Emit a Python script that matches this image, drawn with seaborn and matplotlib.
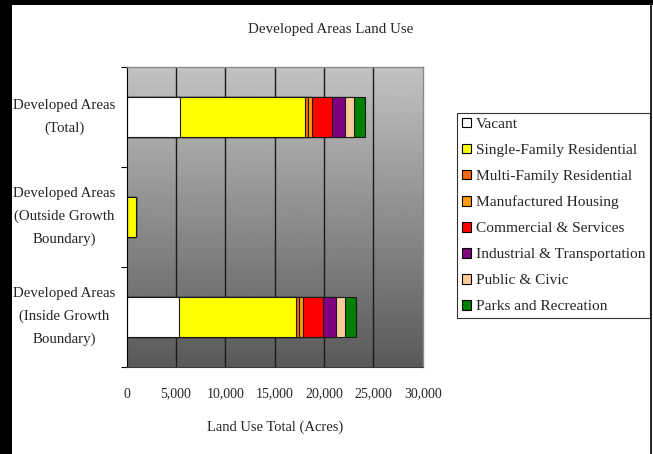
import numpy as np
import pandas as pd
import matplotlib
matplotlib.use("Agg")
import matplotlib.pyplot as plt
from matplotlib.patches import Patch, Rectangle
from matplotlib.lines import Line2D
from matplotlib.ticker import FuncFormatter
import seaborn as sns

# ---- data (acres) ----
categories = [
    "Developed Areas\n(Total)",
    "Developed Areas\n(Outside Growth\nBoundary)",
    "Developed Areas\n(Inside Growth\nBoundary)",
]
series_names = [
    "Vacant",
    "Single-Family Residential",
    "Multi-Family Residential",
    "Manufactured Housing",
    "Commercial & Services",
    "Industrial & Transportation",
    "Public & Civic",
    "Parks and Recreation",
]
vacant = [5400, 0, 5330]
single_family = [12670, 920, 11820]
multi_family = [300, 0, 300]
manufactured = [380, 0, 380]
commercial = [2080, 0, 2090]
industrial = [1290, 0, 1260]
public_civic = [940, 0, 940]
parks = [1050, 0, 1080]
x_ticks = [0, 5000, 10000, 15000, 20000, 25000, 30000]

series_values = [vacant, single_family, multi_family, manufactured,
                 commercial, industrial, public_civic, parks]
series_colors = ["#ffffff", "#ffff00", "#ff6600", "#ff9900",
                 "#ff0000", "#800080", "#ffcc99", "#008000"]

# long table with running totals for the stacked bars
rows = []
for name, vals in zip(series_names, series_values):
    for cat, v in zip(categories, vals):
        rows.append({"category": cat, "series": name, "value": v})
df = pd.DataFrame(rows)
df["cum"] = df.groupby("category", sort=False)["value"].cumsum()

sns.set_style("white")
plt.rcParams["font.family"] = ["Liberation Serif", "DejaVu Serif"]

W, H = 653, 454
fig = plt.figure(figsize=(W / 100, H / 100), dpi=100)
fig.patch.set_facecolor("black")

# white page area inside a dark frame
fig.add_artist(Rectangle((12 / W, 0), (W - 12) / W, (H - 5) / H,
                         transform=fig.transFigure, facecolor="white",
                         edgecolor="none", zorder=-1))
fig.add_artist(Line2D([650.5 / W, 650.5 / W], [0, (H - 5) / H],
                      transform=fig.transFigure, color="black", lw=1.2))

x0, x1 = 126.7, 422.7
y_top, y_bot = 66.7, 366.7
ax = fig.add_axes([x0 / W, (H - y_bot) / H, (x1 - x0) / W, (y_bot - y_top) / H])

# gradient plot area
grad = np.linspace(0.76, 0.35, 256).reshape(-1, 1)
ax.imshow(grad, cmap="gray", vmin=0, vmax=1, aspect="auto",
          extent=[0, 30000, 2.5, -0.5], origin="upper", zorder=0,
          interpolation="bilinear")

# vertical gridlines
for t in x_ticks[1:-1]:
    ax.axvline(t, color="#1a1a1a", lw=1.0, zorder=0.5)

# stacked bars: draw running totals from largest to smallest
for name, color in reversed(list(zip(series_names, series_colors))):
    sub = df[df["series"] == name]
    sns.barplot(data=sub, x="cum", y="category", order=categories,
                orient="h", color=color, saturation=1, width=0.4,
                errorbar=None, edgecolor="#1a1a1a", linewidth=0.8, ax=ax)

ax.set_xlim(0, 30000)
ax.set_ylim(2.5, -0.5)
ax.set_xticks(x_ticks)
ax.xaxis.set_major_formatter(FuncFormatter(lambda v, p: f"{int(v):,}"))
ax.tick_params(axis="x", direction="out", length=4, width=0.8,
               color="black", pad=11, labelsize=10)
ax.set_yticks([0, 1, 2])
ax.set_yticklabels(categories, ha="right", va="center",
                   multialignment="center", linespacing=1.95)
ax.set_yticks([-0.5, 0.5, 1.5, 2.5], minor=True)
ax.tick_params(axis="y", which="major", length=0, pad=8, labelsize=10.7)
ax.tick_params(axis="y", which="minor", direction="out", length=4,
               width=0.8, color="black", left=True)
ax.set_xlabel("Land Use Total (Acres)", fontsize=10.5, labelpad=14.5)
ax.set_ylabel("")

for side in ["top", "right"]:
    ax.spines[side].set_color("#8a8a8a")
    ax.spines[side].set_linewidth(1.0)
ax.spines["bottom"].set_color("#3a3a3a")
ax.spines["left"].set_color("black")
for s in ax.spines.values():
    s.set_visible(True)

fig.text(331 / W, 1 - 30 / H, "Developed Areas Land Use",
         ha="center", va="center", fontsize=10.8)

handles = [Patch(facecolor=c, edgecolor="black", linewidth=0.8)
           for c in series_colors]
leg = fig.legend(handles, series_names, loc="upper left",
                 bbox_to_anchor=(457 / W, 1 - 113 / H), frameon=True,
                 fancybox=False, edgecolor="black", fontsize=11.1,
                 handlelength=0.6, handleheight=0.6, handletextpad=0.3,
                 labelspacing=0.82, borderpad=0.3, borderaxespad=0)
leg.get_frame().set_linewidth(0.8)

fig.savefig("out.png", dpi=100, facecolor=fig.get_facecolor())
